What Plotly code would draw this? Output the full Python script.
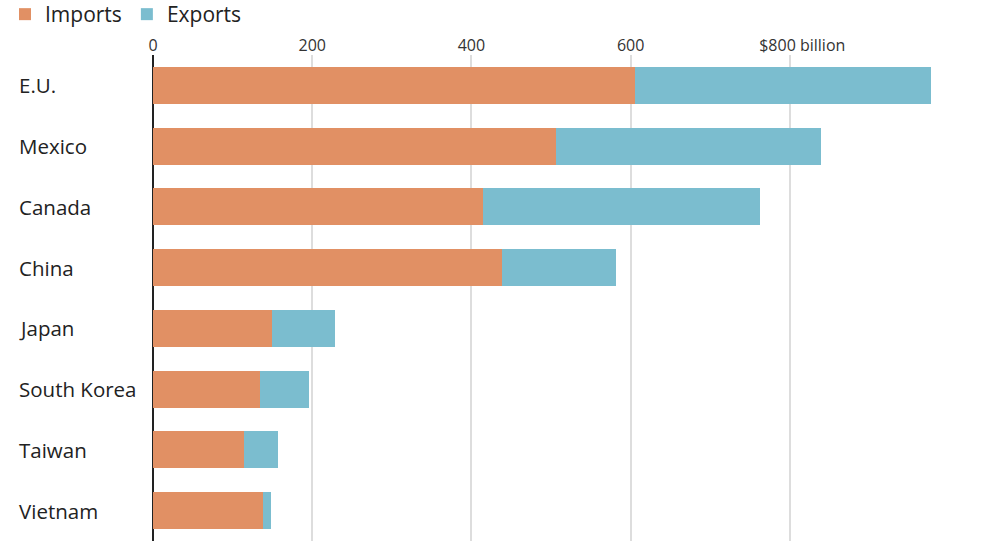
import plotly.graph_objects as go

categories = ["E.U.", "Mexico", "Canada", "China", "Japan", "South Korea", "Taiwan", "Vietnam"]
imports = [606, 506, 415, 439, 149, 134, 114, 138]
exports = [371, 333, 348, 143, 80, 62, 43, 10]
tick_vals = [0, 200, 400, 600, 800]
tick_text = ["0", "200", "400", "600", "$800 billion"]

ORANGE = "#E19064"
BLUE = "#7BBDCF"
FONT = "Open Sans"

fig = go.Figure()
fig.add_trace(go.Bar(y=categories, x=imports, orientation="h", name="Imports",
                     marker=dict(color=ORANGE, line=dict(width=0))))
fig.add_trace(go.Bar(y=categories, x=exports, orientation="h", name="Exports",
                     marker=dict(color=BLUE, line=dict(width=0))))

W, H = 1000, 545
L, R, T, B = 153, 51, 55, 4
pw = W - L - R
ph = H - T - B

# the last tick label in the reference is shifted right so that "$800" sits on its gridline
display_ticks = tick_text[:-1] + ["\u00a0" * 6 + tick_text[-1]]

for c in categories:
    fig.add_annotation(x=(17 - L) / pw, xref="paper", y=c, yref="y", text=c,
                       showarrow=False, xanchor="left", yanchor="middle",
                       font=dict(family=FONT, size=20.5, color="#222"))

fig.update_layout(
    width=W, height=H,
    margin=dict(l=L, r=R, t=T, b=B, autoexpand=False),
    barmode="stack", bargap=0.39,
    plot_bgcolor="white", paper_bgcolor="white",
    font=dict(family=FONT, color="#333"),
    showlegend=True,
    legend=dict(orientation="h", traceorder="normal",
                xref="paper", yref="paper", x=(5 - L) / pw, xanchor="left",
                y=1 + (T + 6) / ph, yanchor="top",
                font=dict(family=FONT, size=21, color="#222"),
                itemclick=False, bgcolor="rgba(0,0,0,0)"),
    xaxis=dict(side="top", range=[0, 1000], tickvals=tick_vals, ticktext=display_ticks,
               showgrid=True, gridcolor="#dddddd", gridwidth=2,
               zeroline=True, zerolinecolor="#222", zerolinewidth=2,
               tickfont=dict(family=FONT, size=16, color="#333"), ticks="",
               automargin=False, showline=False, fixedrange=True),
    yaxis=dict(categoryorder="array", categoryarray=categories, autorange="reversed",
               showticklabels=False, showgrid=False, zeroline=False, showline=False,
               automargin=False, fixedrange=True),
)

fig.write_html("out.html", config={"displayModeBar": False},
               post_script="document.body.style.margin='0';")
